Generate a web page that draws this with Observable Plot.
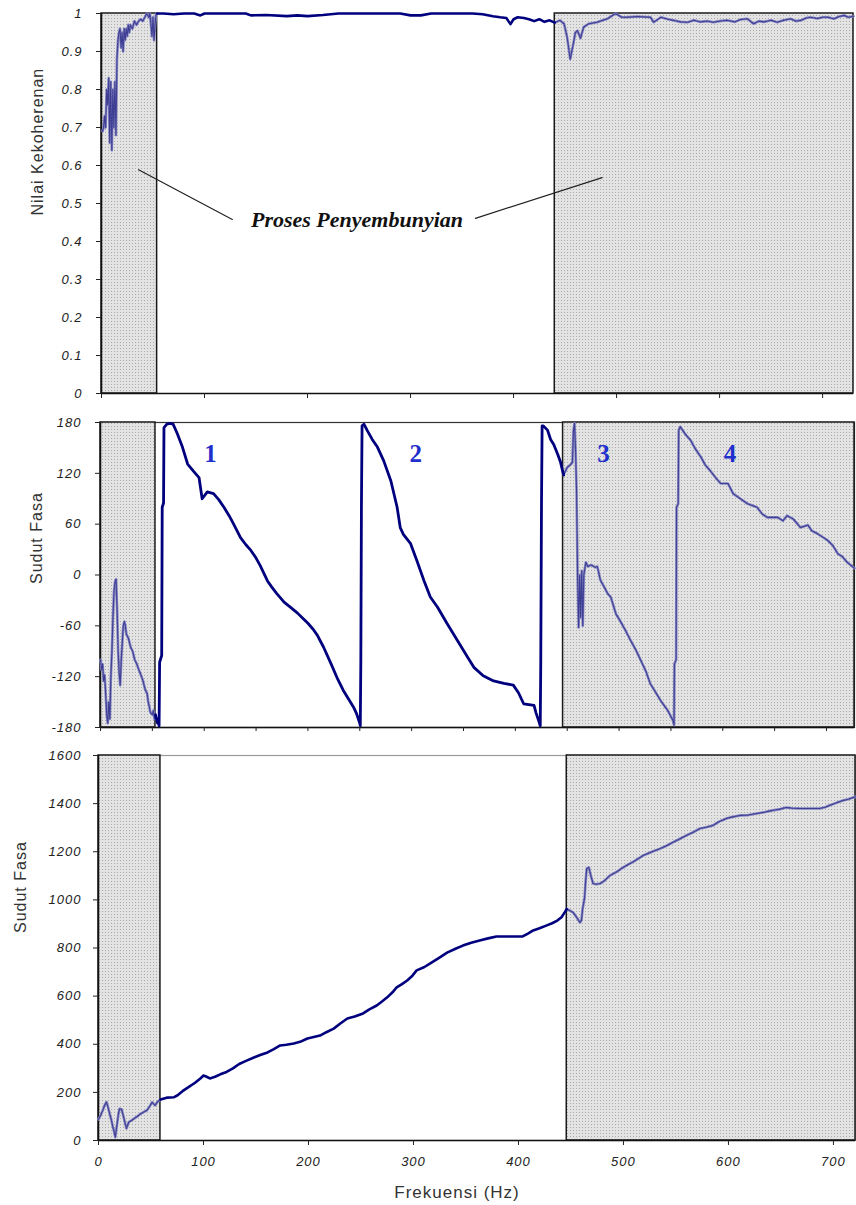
<!DOCTYPE html>
<html><head><meta charset="utf-8">
<script src="https://cdn.jsdelivr.net/npm/d3@7"></script>
<script src="https://cdn.jsdelivr.net/npm/@observablehq/plot@0.6"></script>
<style>
body{margin:0;background:#fff;}
#wrap{position:relative;width:856px;height:1205px;overflow:hidden;background:#fff;}
#wrap svg.pl{position:absolute;left:0;overflow:visible;}
g[aria-label="y-axis tick label"], g[aria-label="x-axis tick label"]{font-style:italic;letter-spacing:1px;}
</style></head><body>
<svg width="1" height="1" style="position:absolute;left:0;top:0">
<defs><pattern id="dots" width="3" height="3" patternUnits="userSpaceOnUse">
<rect width="3" height="3" fill="#e3e3e3"/><rect width="1" height="1" fill="#ababab"/></pattern></defs></svg>
<div id="wrap"></div>
<script>
// ---------- tick values ----------
const xTicks100 = [0,100,200,300,400,500,600,700];
const xTicks50 = [0,50,100,150,200,250,300,350,400,450,500,550,600,650,700];
const yTicksCoh = [0,0.1,0.2,0.3,0.4,0.5,0.6,0.7,0.8,0.9,1];
const yTicksPhase = [-180,-120,-60,0,60,120,180];
const yTicksUnwrap = [0,200,400,600,800,1000,1200,1400,1600];

// ---------- panel 1: coherence ----------
const cohShadeStart = [0, 440];
const cohShadeEnd = [54, 730];
const cohLowHz = [1,2,3,4,5,6,7,8,9,10,11,12,13,14,15,16,17,18,19,20,21,22,23,24,25,26,27,28,30,32,34,36,38,40,42,44,46,47,48,49,50,51,52,53,54];
const cohLowVal = [0.69,0.70,0.73,0.70,0.80,0.76,0.83,0.66,0.82,0.64,0.80,0.70,0.82,0.68,0.88,0.93,0.95,0.96,0.91,0.95,0.90,0.96,0.93,0.96,0.94,0.97,0.95,0.97,0.96,0.98,0.97,0.98,0.985,0.98,0.99,1.0,0.99,1.0,0.97,0.94,0.99,0.93,0.97,1.0,1.0];
const cohMainHz = [54,60,70,80,90,96,100,120,140,145,160,180,190,200,215,230,260,290,300,310,320,340,360,370,380,387,393,397,400,404,410,415,420,425,430,435,440];
const cohMainVal = [1.0,1.0,0.998,1.0,1.0,0.995,1.0,1.0,1.0,0.995,0.996,0.993,0.995,0.993,0.996,1.0,1.0,1.0,0.995,0.995,1.0,1.0,1.0,0.998,0.993,0.99,0.988,0.972,0.985,0.99,0.988,0.985,0.98,0.985,0.978,0.982,0.976];
const cohHighHz = [440,445,449,452,455,458,460,462,465,468,473,481,491,499,505,510,520,533,536,543,550,555,562,569,575,581,588,594,600,607,615,620,627,633,638,643,650,656,662,669,674,679,684,688,695,700,705,711,716,721,725,730];
const cohHighVal = [0.976,0.982,0.973,0.938,0.88,0.92,0.95,0.955,0.935,0.964,0.973,0.977,0.986,1.0,0.99,0.99,0.992,0.99,0.977,0.99,0.985,0.982,0.978,0.977,0.982,0.978,0.98,0.977,0.98,0.982,0.978,0.984,0.986,0.973,0.98,0.978,0.982,0.977,0.982,0.986,0.98,0.982,0.988,0.99,0.987,0.99,0.99,0.986,0.992,0.995,0.99,0.993];
const annotText = "Proses Penyembunyian";
const annotHz = 248, annotVal = 0.458;
const leaderLeftHz = [36,127], leaderLeftVal = [0.589,0.458];
const leaderRightHz = [363,486], leaderRightVal = [0.461,0.568];

// ---------- panel 2: wrapped phase ----------
const phShadeStart = [0, 446];
const phShadeEnd = [53, 727];
const phLowHz = [0,1,2,3,4,5,6,7,8,9,10,11,12,13,14,15,16,17,18,19,20,21,22,23,24,25,27,29,31,33,35,37,39,41,43,45,46,47,48,50,51,52,53];
const phLowVal = [-100,-112,-105,-125,-118,-140,-165,-175,-150,-170,-120,-90,-50,-20,-8,-5,-40,-90,-115,-130,-100,-80,-60,-55,-60,-70,-75,-85,-90,-100,-105,-112,-118,-125,-135,-140,-150,-155,-162,-165,-160,-170,-165];
const phMainHz = [53,55,56,56.5,57,59,59.5,60.8,61.2,64,67,70,74,79,84,90,95,98,103,109,114,119,124,128,135,140,145,150,154,161,165,170,177,183,190,195,200,205,209,215,222,228,234,239,244,247,250,250.5,251,251.6,252.2,254,257,262,267,273,280,286,289,292,299,305,312,318,325,334,344,354,360,369,379,389,398,403,408,413,418,420,423,424,424.5,425.2,425.8,427,431,434,437,441,443.6,446.5];
const phMainVal = [-165,-175,-172,-178,-103,-95,80,85,174,178,179,178,167,151,131,122,115,90,98,96,89,80,70,61,44,36,29,20,11,-7,-14,-22,-32,-38,-45,-51,-57,-64,-71,-85,-104,-121,-136,-146,-156,-164,-175,-178,-103,84,176,178,171,160,151,135,111,80,56,48,37,17,-7,-26,-38,-57,-77,-97,-109,-119,-125,-128,-130,-139,-152,-153,-154,-163,-174,-178,-103,84,176,176,171,160,154,142,133,118];
const phHighHz = [446.5,450,453,455,456,457,458,459,460,461,462,463,464,465,466,468,470,473,477,479,482,486,489,492,497,501,506,511,516,521,526,530,535,540,544,547,550,552,553,553.4,555,555.4,557,557.5,559,564,569,573,579,583,588,593,598,605,610,617,624,633,638,643,653,658,662,668,675,682,686,691,701,706,711,715,720,727];
const phHighVal = [118,127,130,133,170,179,150,100,0,-62,0,-50,5,-60,0,15,10,12,9,10,-6,-15,-22,-26,-46,-54,-65,-77,-88,-101,-114,-128,-138,-148,-155,-160,-167,-172,-177,-105,-100,80,84,171,175,166,159,150,139,130,123,115,108,108,96,90,84,80,72,68,68,64,70,66,56,59,52,49,41,35,25,22,15,8];
const segLabels = ["1","2","3","4"];
const segLabelHz = [106,304,485,607];
const segLabelVal = 143;

// ---------- panel 3: unwrapped phase ----------
const unShadeStart = [0, 446];
const unShadeEnd = [59, 721];
const unLowHz = [0,2,4,6,7.6,9,10.6,12,13.5,14.6,16,17.6,19,20,22,23.5,24.7,26.6,28.8,31,33.5,37,40,43,46,48.5,51,54,56,59];
const unLowVal = [88,105,125,148,160,140,112,90,60,42,14,65,110,132,130,105,83,50,76,82,90,100,111,118,125,140,159,146,160,170];
const unMainHz = [59,65,72,75,80,85,92,97,100,103,106,111,116,122,128,134,140,148,154,161,167,173,179,186,192,199,205,211,217,224,230,237,244,252,258,265,270,275,280,284,289,294,299,303,310,316,324,332,340,347,355,363,371,379,387,395,404,409,414,420,427,432,437,441,444,446];
const unMainVal = [170,178,180,187,205,220,240,258,270,265,258,265,275,285,300,318,330,345,355,366,380,395,398,403,410,424,430,436,450,465,485,507,515,528,545,561,578,595,616,636,650,665,685,707,720,736,758,781,797,810,822,831,840,848,848,848,848,860,873,882,894,903,914,928,948,962];
const unHighHz = [446,449,452,455,458.6,460,461,463,464,465,467,469,471,474,478,482,487,493,498,503,510,518.6,526,535,541,547,553,560,566,573,579,585,591,598,604,611,618,627,635,642,648,655,661,668,677,687,692,696,702,709,714,719,721];
const unHighVal = [962,955,948,930,906,915,960,1010,1080,1130,1135,1100,1068,1065,1068,1080,1101,1115,1130,1143,1160,1184,1198,1213,1225,1239,1252,1268,1280,1297,1302,1309,1325,1338,1345,1351,1352,1359,1365,1372,1376,1384,1381,1380,1380,1380,1385,1392,1402,1413,1418,1426,1428];

// ---------- titles ----------
const yTitleCoh = "Nilai Kekoherenan";
const yTitlePhase = "Sudut Fasa";
const xTitle = "Frekuensi (Hz)";

// ---------- helpers ----------
const zip = (xs, ys) => xs.map((x, i) => ({x, y: ys[i]}));
const shades = (s, e) => s.map((v, i) => ({s: v, e: e[i]}));
const MAIN = "#00007e", THIN_BG = "#8585c2", THIN = "#3c3c92";
const FONT = "'Liberation Sans', Arial, sans-serif";
const baseStyle = {fontFamily: FONT, fontSize: "13px", color: "#222", background: "transparent", overflow: "visible"};
const fmt = d => String(d);

function thinLine(xs, ys) {
  const data = zip(xs, ys);
  return [
    Plot.line(data, {x: "x", y: "y", stroke: THIN_BG, strokeWidth: 2.6}),
    Plot.line(data, {x: "x", y: "y", stroke: THIN, strokeWidth: 1.1, strokeDasharray: "2 1"})
  ];
}
function titleY(t, dx, dy) {
  return Plot.text([t], {text: d => d, frameAnchor: "left", rotate: -90, dx, dy, fontSize: 16, fill: "#333", fontStyle: "normal"});
}

// Panel 1
const p1 = Plot.plot({
  width: 856, height: 405, marginLeft: 101, marginRight: 3, marginTop: 13, marginBottom: 12,
  x: {domain: [0, 730]}, y: {domain: [0, 1]}, style: baseStyle,
  marks: [
    Plot.rect(shades(cohShadeStart, cohShadeEnd), {x1: "s", x2: "e", y1: 0, y2: 1, fill: "url(#dots)", stroke: "#1a1a1a", strokeWidth: 1.5}),
    Plot.ruleX([0], {stroke: "#111", strokeWidth: 1.5}),
    Plot.ruleY([0], {stroke: "#111", strokeWidth: 1.5}),
    Plot.axisY({ticks: yTicksCoh, tickSize: 5, tickPadding: 14, tickFormat: fmt, label: null, fontStyle: "italic"}),
    Plot.axisX({ticks: xTicks100, tickSize: 5, tickFormat: () => "", label: null}),
    Plot.line(zip(leaderLeftHz, leaderLeftVal), {x: "x", y: "y", stroke: "#222", strokeWidth: 1.2}),
    Plot.line(zip(leaderRightHz, leaderRightVal), {x: "x", y: "y", stroke: "#222", strokeWidth: 1.2}),
    Plot.text([annotText], {x: annotHz, y: annotVal, text: d => d, fontFamily: "'Liberation Serif', 'DejaVu Serif', serif", fontWeight: "bold", fontStyle: "italic", fontSize: 22, fill: "#111"}),
    ...thinLine(cohLowHz, cohLowVal),
    ...thinLine(cohHighHz, cohHighVal),
    Plot.line(zip(cohMainHz, cohMainVal), {x: "x", y: "y", stroke: MAIN, strokeWidth: 2.6}),
    titleY(yTitleCoh, -64, 12)
  ]
});

// Panel 2
const p2 = Plot.plot({
  width: 856, height: 335, marginLeft: 100, marginRight: 2, marginTop: 17, marginBottom: 13,
  x: {domain: [0, 727]}, y: {domain: [-180, 180]}, style: baseStyle,
  marks: [
    Plot.frame({stroke: "#333", strokeWidth: 1.2}),
    Plot.rect(shades(phShadeStart, phShadeEnd), {x1: "s", x2: "e", y1: -180, y2: 180, fill: "url(#dots)", stroke: "#1a1a1a", strokeWidth: 1.5}),
    Plot.ruleX([0], {stroke: "#111", strokeWidth: 1.5}),
    Plot.ruleY([-180], {stroke: "#111", strokeWidth: 1.5}),
    Plot.axisY({ticks: yTicksPhase, tickSize: 5, tickPadding: 14, tickFormat: fmt, label: null, fontStyle: "italic"}),
    Plot.axisX({ticks: xTicks50, tickSize: 4, tickFormat: () => "", label: null}),
    ...thinLine(phLowHz, phLowVal),
    ...thinLine(phHighHz, phHighVal),
    Plot.line(zip(phMainHz, phMainVal), {x: "x", y: "y", stroke: MAIN, strokeWidth: 2.8}),
    Plot.text(segLabels, {x: (d, i) => segLabelHz[i], y: segLabelVal, text: d => d, fontFamily: "'Liberation Serif', 'DejaVu Serif', serif", fontWeight: "bold", fontSize: 25, fill: "#1f2fcc"}),
    titleY(yTitlePhase, -64, 9)
  ]
});

// Panel 3
const p3 = Plot.plot({
  width: 856, height: 465, marginLeft: 98, marginRight: 1, marginTop: 15, marginBottom: 65,
  x: {domain: [0, 721]}, y: {domain: [0, 1600]}, style: baseStyle,
  marks: [
    Plot.frame({stroke: "#999", strokeWidth: 1.2}),
    Plot.rect(shades(unShadeStart, unShadeEnd), {x1: "s", x2: "e", y1: 0, y2: 1600, fill: "url(#dots)", stroke: "#1a1a1a", strokeWidth: 1.5}),
    Plot.ruleX([0], {stroke: "#111", strokeWidth: 1.5}),
    Plot.ruleY([0], {stroke: "#111", strokeWidth: 1.5}),
    Plot.axisY({ticks: yTicksUnwrap, tickSize: 5, tickPadding: 12, tickFormat: fmt, label: null, fontStyle: "italic"}),
    Plot.axisX({ticks: xTicks100, tickSize: 5, tickPadding: 11, tickFormat: fmt, label: null, fontStyle: "italic"}),
    ...thinLine(unLowHz, unLowVal),
    ...thinLine(unHighHz, unHighVal),
    Plot.line(zip(unMainHz, unMainVal), {x: "x", y: "y", stroke: MAIN, strokeWidth: 2.6}),
    titleY(yTitlePhase, -78, -15),
    Plot.text([xTitle], {text: d => d, frameAnchor: "bottom", dx: -20, dy: 57, fontSize: 17, fill: "#333", fontStyle: "normal"})
  ]
});

const wrap = document.getElementById("wrap");
[[p1, 0], [p2, 405], [p3, 740]].forEach(([svg, top]) => {
  svg.classList.add("pl");
  svg.style.top = top + "px";
  wrap.appendChild(svg);
  d3.select(svg).selectAll("text").filter(function () {
    const t = this.textContent;
    return t === yTitleCoh || t === yTitlePhase || t === xTitle;
  }).style("letter-spacing", "1px");
});
</script>
</body></html>
